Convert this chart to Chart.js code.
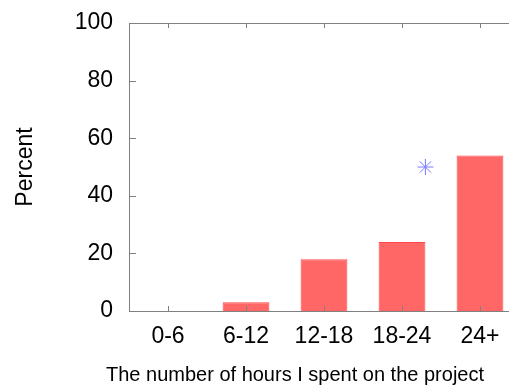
<!DOCTYPE html>
<html>
  <head>
    <title>Hours spent</title>
    <meta charset="UTF-8">
    <style>
      html, body { margin: 0; padding: 0; overflow: hidden; background: #fff; }
      #barChart { display: block; }
    </style>
  </head>
  <body>
    <div style="width:530px;height:387px;">
      <canvas id="barChart"></canvas>
    </div>
    <script src="https://cdn.jsdelivr.net/npm/chart.js/dist/chart.umd.min.js"></script>
    <script>
      // data
      const hours = ['0-6', '6-12', '12-18', '18-24', '24+'];
      const percent = [0, 3, 18, 24, 54];
      const starX = [3.3];   // marker sits a bit right of the 18-24 bar
      const starY = [50];
      const yTicks = [0, 20, 40, 60, 80, 100];
      const xTitle = 'The number of hours I spent on the project';

      const AXIS = '#808080';
      const FAMILY = '"Liberation Sans", Arial, sans-serif';

      // top border, inward tick marks and the x title (gnuplot style frame)
      const frame = {
        id: 'frame',
        afterDraw(chart) {
          const ctx = chart.ctx, a = chart.chartArea;
          const xs = chart.scales.x, ys = chart.scales.y;
          ctx.save();
          ctx.strokeStyle = AXIS;
          ctx.lineWidth = 1;
          ctx.beginPath();
          ctx.moveTo(a.left, a.top + 0.5);
          ctx.lineTo(a.right, a.top + 0.5);
          hours.forEach((h, i) => {
            const px = Math.round(xs.getPixelForValue(i)) + 0.5;
            ctx.moveTo(px, a.top);
            ctx.lineTo(px, a.top + 5);
            ctx.moveTo(px, a.bottom);
            ctx.lineTo(px, a.bottom - 5);
          });
          yTicks.forEach(v => {
            const py = Math.round(ys.getPixelForValue(v)) + 0.5;
            ctx.moveTo(a.left, py);
            ctx.lineTo(a.left + 7, py);
          });
          ctx.stroke();

          // title is centred on the original figure, not on the cut-off plot
          ctx.fillStyle = '#000';
          ctx.font = '20px ' + FAMILY;
          ctx.textAlign = 'center';
          ctx.textBaseline = 'alphabetic';
          ctx.fillText(xTitle, 295, 381);
          ctx.restore();
        }
      };

      const font = { family: FAMILY, size: 23 };

      function noPad(s) {
        s.paddingTop = 0; s.paddingBottom = 0;
        s.paddingLeft = 0; s.paddingRight = 0;
      }

      new Chart(document.getElementById('barChart'), {
        type: 'bar',
        data: {
          labels: hours,
          datasets: [
            {
              type: 'bar',
              data: percent,
              backgroundColor: '#ff6666',
              borderColor: '#ff4545',
              borderWidth: 1,
              barPercentage: 0.6,
              categoryPercentage: 1.0,
              grouped: false,
              order: 2
            },
            {
              type: 'scatter',
              xAxisID: 'x2',
              data: starX.map((x, i) => ({ x: x, y: starY[i] })),
              pointStyle: 'star',
              radius: 8,
              borderColor: '#7878ff',
              backgroundColor: '#7878ff',
              borderWidth: 1,
              order: 1
            }
          ]
        },
        options: {
          responsive: true,
          maintainAspectRatio: false,
          animation: false,
          layout: { padding: { top: 23, right: 11, left: 0, bottom: 0 } },
          plugins: { legend: { display: false }, tooltip: { enabled: false } },
          scales: {
            x: {
              type: 'category',
              offset: true,
              grid: { display: false, drawTicks: false },
              border: { display: true, color: AXIS, width: 1 },
              ticks: { color: '#000', font: font, padding: 12 },
              afterFit(s) { s.height = 76; noPad(s); }
            },
            x2: {
              type: 'linear',
              display: false,
              offset: false,
              min: -0.5,
              max: 4.5
            },
            y: {
              min: 0,
              max: 100,
              afterBuildTicks(s) { s.ticks = yTicks.map(v => ({ value: v })); },
              grid: { display: false, drawTicks: false },
              border: { display: true, color: AXIS, width: 1 },
              ticks: { color: '#000', font: font, padding: 16 },
              title: {
                display: true,
                text: 'Percent',
                color: '#000',
                font: font,
                padding: { top: 12, bottom: 0 }
              },
              afterFit(s) { s.width = 129; noPad(s); }
            }
          }
        },
        plugins: [frame]
      });
    </script>
  </body>
</html>
